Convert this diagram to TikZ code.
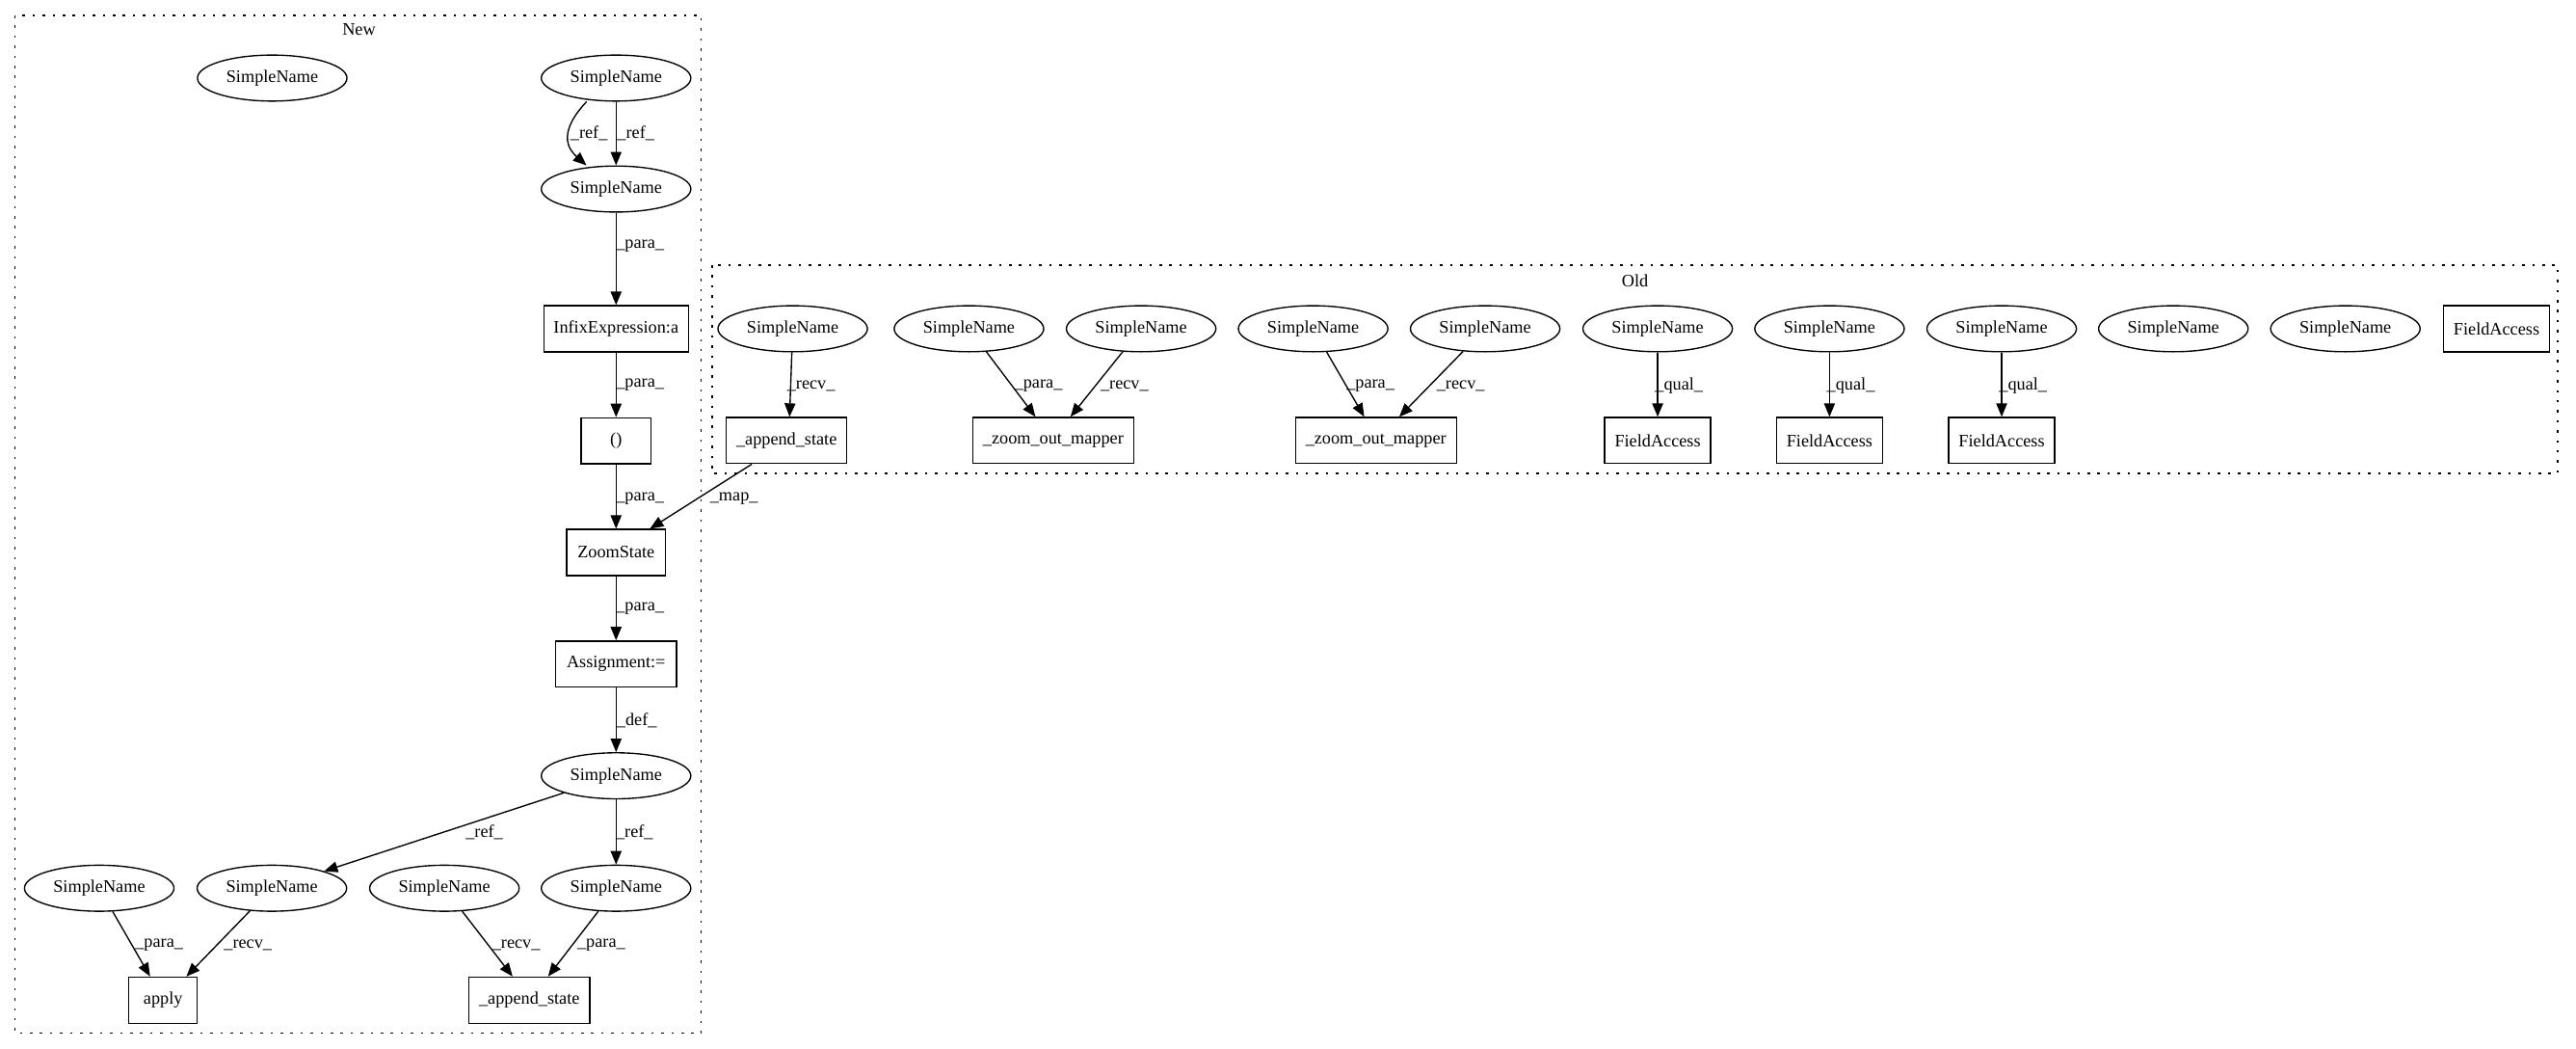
\documentclass[tikz,border=0pt]{standalone}
\usepackage{fontspec}
\setmainfont{Liberation Serif}
\usetikzlibrary{arrows.meta,shapes.geometric}
\begin{document}
\begin{tikzpicture}[x=1pt,y=-1pt,
  every node/.style={font=\fontsize{10.7}{12}\selectfont},
  sn/.style={ellipse,draw,line width=0.8pt,minimum width=91pt,minimum height=28pt,inner sep=0pt},
  bx/.style={rectangle,draw,line width=0.8pt,minimum height=28pt,inner sep=0pt},
  lb/.style={inner sep=0pt},
  ed/.style={line width=0.8pt,-{Triangle[length=8.2pt,width=6.6pt]}},
  clu/.style={line width=0.8pt,dash pattern=on 1.5pt off 4.6pt}]
\useasboundingbox (0,0) rectangle (1568,638.2);
% clusters
\draw[clu] (9.1,9.4) rectangle (426.9,628.6);
\node[lb] (newlbl) at (218.5,17.8) {New};
\draw[clu] (433.5,161.3) rectangle (1556.9,288);
\node[lb] (oldlbl) at (995.2,171) {Old};
% New nodes
\node[sn] (n1) at (165.7,47.5) {SimpleName};
\node[sn] (n2) at (375,47.5) {SimpleName};
\node[sn] (n3) at (375,115) {SimpleName};
\node[bx,minimum width=88pt] (n4) at (375,200) {InfixExpression:a};
\node[bx,minimum width=42.5pt] (n5) at (375,268.2) {()};
\node[bx,minimum width=60pt] (n6) at (375,336.1) {ZoomState};
\node[bx,minimum width=73.4pt] (n7) at (375,404) {Assignment:=};
\node[sn] (n8) at (375,472) {SimpleName};
\node[sn] (n9) at (60.4,540.4) {SimpleName};
\node[sn] (n10) at (165.5,540.4) {SimpleName};
\node[sn] (n11) at (270.5,540.4) {SimpleName};
\node[sn] (n12) at (375,540.4) {SimpleName};
\node[bx,minimum width=41.7pt] (n13) at (99.25,608.5) {apply};
\node[bx,minimum width=73.6pt] (n14) at (322.2,608.5) {\_append\_state};
% Old nodes
\node[sn] (o1) at (482.5,200) {SimpleName};
\node[sn] (o2) at (589.8,200) {SimpleName};
\node[sn] (o3) at (694.6,200) {SimpleName};
\node[sn] (o4) at (799.3,200) {SimpleName};
\node[sn] (o5) at (904,200) {SimpleName};
\node[sn] (o6) at (1009,200) {SimpleName};
\node[sn] (o7) at (1113.6,200) {SimpleName};
\node[sn] (o8) at (1218.4,200) {SimpleName};
\node[sn] (o9) at (1322.9,200) {SimpleName};
\node[sn] (o10) at (1427.6,200) {SimpleName};
\node[bx,minimum width=64.5pt] (o11) at (1519.6,200) {FieldAccess};
\node[bx,minimum width=73.3pt] (ob1) at (478.8,268) {\_append\_state};
\node[bx,minimum width=98pt] (ob2) at (641.1,268) {\_zoom\_out\_mapper};
\node[bx,minimum width=98pt] (ob3) at (837.5,268) {\_zoom\_out\_mapper};
\node[bx,minimum width=64.5pt] (ob4) at (1009,268) {FieldAccess};
\node[bx,minimum width=64.5pt] (ob5) at (1113.6,268) {FieldAccess};
\node[bx,minimum width=64.5pt] (ob6) at (1218.4,268) {FieldAccess};
% New edges
\draw[ed] (n2) -- (n3);
\draw[ed] ([xshift=-18pt]n2.south) .. controls (340,80) and (345,90) .. ([xshift=-18pt]n3.north);
\draw[ed] (n3) -- (n4);
\draw[ed] (n4) -- (n5);
\draw[ed] (n5) -- (n6);
\draw[ed] (n6) -- (n7);
\draw[ed] (n7) -- (n8);
\draw[ed] (n8) -- (n10);
\draw[ed] (n8) -- (n12);
\draw[ed] (n9) -- ([xshift=-7.9pt]n13.north);
\draw[ed] (n10) -- ([xshift=14.2pt]n13.north);
\draw[ed] (n11) -- ([xshift=-10.2pt]n14.north);
\draw[ed] (n12) -- ([xshift=11.4pt]n14.north);
% Old edges
\draw[ed] (o1) -- ([xshift=1.8pt]ob1.north);
\draw[ed] (o2) -- ([xshift=-10.8pt]ob2.north);
\draw[ed] (o3) -- ([xshift=10.5pt]ob2.north);
\draw[ed] (o4) -- ([xshift=-7.1pt]ob3.north);
\draw[ed] (o5) -- ([xshift=14.2pt]ob3.north);
\draw[ed] (o6) -- (ob4);
\draw[ed] (o7) -- (ob5);
\draw[ed] (o8) -- (ob6);
\draw[ed] ([xshift=-21.2pt]ob1.south) -- ([xshift=20.6pt]n6.north);
% labels New
\node[lb] (l1) at (358.5,81.3) {\_ref\_};
\node[lb] (l2) at (387,81.3) {\_ref\_};
\node[lb] (l3) at (389.6,149.8) {\_para\_};
\node[lb] (l4) at (389.6,234.2) {\_para\_};
\node[lb] (l5) at (389.6,303.1) {\_para\_};
\node[lb] (l6) at (389.6,370.5) {\_para\_};
\node[lb] (l7) at (387.6,438.2) {\_def\_};
\node[lb] (l8) at (294.8,506.5) {\_ref\_};
\node[lb] (l9) at (386.2,506.5) {\_ref\_};
\node[lb] (l10) at (96.9,574.8) {\_para\_};
\node[lb] (l11) at (150.9,574.8) {\_recv\_};
\node[lb] (l12) at (314.2,574.8) {\_recv\_};
\node[lb] (l13) at (366,574.8) {\_para\_};
% labels Old
\node[lb] (m1) at (493.7,234.6) {\_recv\_};
\node[lb] (m2) at (632.1,234.6) {\_para\_};
\node[lb] (m3) at (684.5,234.6) {\_recv\_};
\node[lb] (m4) at (834.2,234.6) {\_para\_};
\node[lb] (m5) at (889.1,234.6) {\_recv\_};
\node[lb] (m6) at (1022,234.6) {\_qual\_};
\node[lb] (m7) at (1126.6,234.6) {\_qual\_};
\node[lb] (m8) at (1231.4,234.6) {\_qual\_};
\node[lb] (m9) at (446.8,303.1) {\_map\_};
\end{tikzpicture}
\end{document}
